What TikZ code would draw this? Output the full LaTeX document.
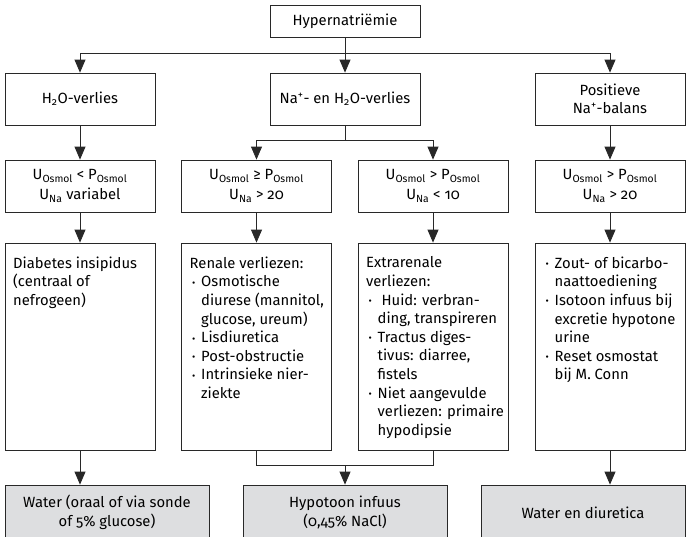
\documentclass[tikz,border=0pt]{standalone}
\usepackage{fontspec}
\setmainfont{Fira Sans}[Numbers=OldStyle]
\usetikzlibrary{arrows.meta}
\definecolor{boxgray}{RGB}{221,222,224}
\definecolor{lineclr}{RGB}{40,40,40}
\newcommand\fs{\fontsize{14.8pt}{18.6pt}\selectfont}
\newcommand\bul{\makebox[11.5pt][l]{\hspace{2.5pt}\raisebox{0.6pt}{\fontsize{10pt}{10pt}\selectfont •}}}
\newcommand\ind{\hspace*{11.5pt}}
\newcommand\sub[1]{\textsubscript{#1}}
\newcommand\super[1]{\textsuperscript{#1}}
\begin{document}
\begin{tikzpicture}[x=1pt,y=-1pt,
  box/.style={draw=lineclr, line width=0.8pt, inner sep=0pt, minimum width=150pt, align=center, font=\fs},
  lvltwo/.style={box, minimum height=52pt},
  lvlthree/.style={box, minimum height=52pt, font=\fontsize{14.8pt}{20pt}\selectfont},
  lvlfour/.style={box, minimum height=207pt},
  result/.style={box, fill=boxgray, minimum width=204pt, minimum height=55pt, font=\fontsize{14.8pt}{19.5pt}\selectfont},
  listtext/.style={inner sep=0pt, anchor=north west, align=left, font=\fs},
  conn/.style={draw=lineclr, line width=0.8pt},
  arr/.style={conn, -{Triangle[length=13pt,width=11pt]}}]
\useasboundingbox (0,0) rectangle (687,536);
\clip (0,0) rectangle (687,536);
% level 1
\node[box, minimum height=32pt] (top) at (345,21) {Hypernatriëmie};
% level 2
\node[lvltwo] (a2) at (80,99) {H\sub{2}O-verlies};
\node[lvltwo] (m2) at (345,99) {Na\super{+}- en H\sub{2}O-verlies};
\node[lvltwo] (d2) at (610,99) {Positieve\\Na\super{+}-balans};
% level 3
\node[lvlthree] (a3) at (80,186) {U\sub{Osmol} < P\sub{Osmol}\\U\sub{Na} variabel};
\node[lvlthree] (b3) at (256.5,186) {U\sub{Osmol} ≥ P\sub{Osmol}\\U\sub{Na} > 20};
\node[lvlthree] (c3) at (433,186) {U\sub{Osmol} > P\sub{Osmol}\\U\sub{Na} < 10};
\node[lvlthree] (d3) at (610,186) {U\sub{Osmol} > P\sub{Osmol}\\U\sub{Na} > 20};
% level 4
\node[lvlfour] (a4) at (80,346.5) {};
\node[lvlfour] (b4) at (256.5,346.5) {};
\node[lvlfour] (c4) at (433,346.5) {};
\node[lvlfour] (d4) at (610,346.5) {};
\node[listtext] (a4t) at (13,256.5) {Diabetes insipidus\\(centraal of\\nefrogeen)};
\node[listtext] (b4t) at (189.5,256.5) {Renale verliezen:\\\bul Osmotische\\\ind diurese (mannitol,\\\ind glucose, ureum)\\\bul Lisdiuretica\\\bul Post-obstructie\\\bul Intrinsieke nier-\\\ind ziekte};
\node[listtext] (c4t) at (366,256.5) {Extrarenale\\verliezen:\\\bul\ Huid: verbran-\\\ind ding, transpireren\\\bul Tractus diges-\\\ind tivus: diarree,\\\ind fistels\\\bul Niet aangevulde\\\ind verliezen: primaire\\\ind hypodipsie};
\node[listtext] (d4t) at (543,256.5) {\bul Zout- of bicarbo-\\\ind naattoediening\\\bul Isotoon infuus bij\\\ind excretie hypotone\\\ind urine\\\bul Reset osmostat\\\ind bij M. Conn};
% level 5
\node[result] (a5) at (107,512.5) {Water (oraal of via sonde\\of 5\% glucose)};
\node[result] (m5) at (345,512.5) {Hypotoon infuus\\(0,45\% NaCl)};
\node[result] (d5) at (583,512.5) {Water en diuretica};
% connectors level 1 -> 2
\coordinate (h1) at (345,53);
\draw[conn] (a2.north |- h1) -- (d2.north |- h1);
\draw[arr] (top.south) -- (m2.north);
\draw[arr] (a2.north |- h1) -- (a2.north);
\draw[arr] (d2.north |- h1) -- (d2.north);
% level 2 -> 3
\draw[arr] (a2.south) -- (a3.north);
\draw[arr] (d2.south) -- (d3.north);
\coordinate (h2) at (345,140);
\draw[conn] (m2.south) -- (h2);
\draw[conn] (b3.north |- h2) -- (c3.north |- h2);
\draw[arr] (b3.north |- h2) -- (b3.north);
\draw[arr] (c3.north |- h2) -- (c3.north);
% level 3 -> 4
\draw[arr] (a3.south) -- (a4.north);
\draw[arr] (b3.south) -- (b4.north);
\draw[arr] (c3.south) -- (c4.north);
\draw[arr] (d3.south) -- (d4.north);
% level 4 -> 5
\draw[arr] (a4.south) -- (a4.south |- a5.north);
\draw[arr] (d4.south) -- (d4.south |- d5.north);
\coordinate (h3) at (345,465);
\draw[conn] (b4.south) -- (b4.south |- h3) -- (c4.south |- h3) -- (c4.south);
\draw[arr] (h3) -- (m5.north);
\end{tikzpicture}
\end{document}
